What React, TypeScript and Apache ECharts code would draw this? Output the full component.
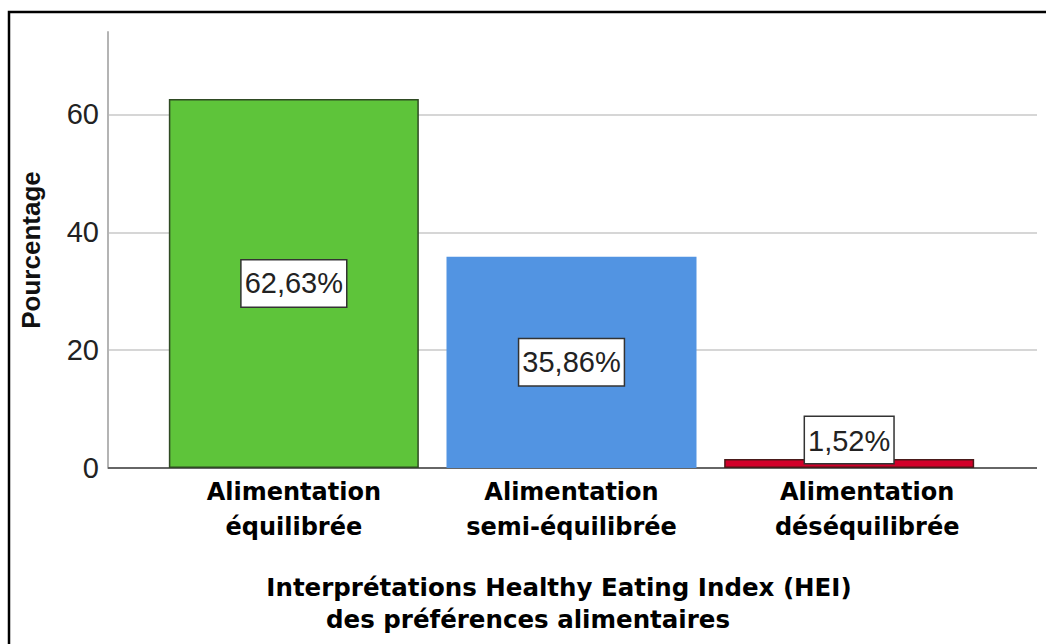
import React, { useEffect, useRef } from "react";
import * as echarts from "echarts";

// Category labels (two lines each) and percentages per category
const categories = [
  "Alimentation\néquilibrée",
  "Alimentation\nsemi-équilibrée",
  "Alimentation\ndéséquilibrée",
];
const percentages = [62.63, 35.86, 1.52];
const barColors = ["#5ec43a", "#5294e2", "#d2002a"];
const barBorders = ["#2f4a23", "#5294e2", "#4a1a1a"];
const yTicks = [0, 20, 40, 60];
const yAxisTitle = "Pourcentage";
const xAxisTitle = [
  "Interprétations Healthy Eating Index (HEI)",
  "des préférences alimentaires",
];

const Y_MAX = 74;
const fmt = (v: number) => v.toFixed(2).replace(".", ",") + "%";

export default function App() {
  const ref = useRef<HTMLDivElement>(null);

  useEffect(() => {
    if (!ref.current) return;
    const chart = echarts.init(ref.current, undefined, { renderer: "svg" });

    const labelBox = {
      show: true,
      formatter: (p: any) => fmt(p.value),
      fontFamily: "Liberation Sans, Arial, sans-serif",
      fontSize: 29,
      lineHeight: 29,
      color: "#222",
      backgroundColor: "#ffffff",
      borderColor: "#333",
      borderWidth: 1.5,
      padding: [9, 3, 8, 3],
    };

    chart.setOption({
      animation: false,
      grid: [
        { left: 108, right: 9, top: 32, bottom: 176 },
        { left: 155, right: 58, top: 32, bottom: 176 },
      ],
      xAxis: [
        {
          type: "value",
          gridIndex: 0,
          min: 0,
          max: 1,
          axisLine: { show: false },
          axisTick: { show: false },
          axisLabel: { show: false },
          splitLine: { show: false },
        },
        {
          type: "category",
          gridIndex: 1,
          data: categories.map((c, i) =>
            i === 2
              ? { value: c, textStyle: { padding: [0, 0, 5, 36] } }
              : c
          ),
          axisLine: { show: false },
          axisTick: { show: false },
          axisLabel: {
            margin: 6,
            fontFamily: "DejaVu Sans, Verdana, sans-serif",
            fontWeight: "bold",
            fontSize: 24,
            lineHeight: 35,
            color: "#000",
            interval: 0,
          },
        },
      ],
      yAxis: [
        {
          type: "value",
          gridIndex: 0,
          min: 0,
          max: Y_MAX,
          interval: 20,
          axisLine: { show: true, lineStyle: { color: "#b4b4b4", width: 2 } },
          axisTick: { show: false },
          axisLabel: {
            showMaxLabel: false,
            margin: 9,
            fontFamily: "Liberation Sans, Arial, sans-serif",
            fontSize: 29,
            color: "#222",
            formatter: (v: number) => (yTicks.includes(v) ? String(v) : ""),
          },
          splitLine: {
            show: true,
            showMaxLine: false,
            showMinLine: false,
            lineStyle: { color: "#d6d6d6", width: 2 },
          },
        },
        {
          type: "value",
          gridIndex: 1,
          min: 0,
          max: Y_MAX,
          show: false,
          splitLine: { show: false },
        },
      ],
      series: [
        {
          // baseline of the plot along the bottom
          type: "line",
          xAxisIndex: 0,
          yAxisIndex: 0,
          data: [
            [0, 0],
            [1, 0],
          ],
          symbol: "none",
          lineStyle: { color: "#666", width: 2 },
          silent: true,
          z: 3,
        },
        {
          type: "bar",
          xAxisIndex: 1,
          yAxisIndex: 1,
          barWidth: 250,
          z: 4,
          data: percentages.map((v, i) => ({
            value: v,
            itemStyle: {
              color: barColors[i],
              borderColor: barBorders[i],
              borderWidth: i === 1 ? 0 : 1.5,
            },
            label:
              i === 2
                ? { ...labelBox, position: "top", distance: -4 }
                : { ...labelBox, position: "inside" },
          })),
        },
      ],
      graphic: [
        {
          type: "rect",
          shape: { x: 9, y: 12, width: 1100, height: 700 },
          style: { fill: "none", stroke: "#000", lineWidth: 2.5 },
          silent: true,
        },
        {
          type: "text",
          x: 31,
          y: 250,
          rotation: Math.PI / 2,
          style: {
            text: yAxisTitle,
            fontFamily: "Liberation Sans, Arial, sans-serif",
            fontWeight: "bold",
            fontSize: 26,
            fill: "#111",
            align: "center",
            verticalAlign: "middle",
          },
        },
        {
          type: "text",
          x: 559,
          y: 587,
          style: {
            text: xAxisTitle[0],
            fontFamily: "DejaVu Sans, Verdana, sans-serif",
            fontWeight: "bold",
            fontSize: 24.5,
            fill: "#000",
            align: "center",
            verticalAlign: "middle",
          },
        },
        {
          type: "text",
          x: 528,
          y: 619,
          style: {
            text: xAxisTitle[1],
            fontFamily: "DejaVu Sans, Verdana, sans-serif",
            fontWeight: "bold",
            fontSize: 24.5,
            fill: "#000",
            align: "center",
            verticalAlign: "middle",
          },
        },
      ],
    });

    return () => chart.dispose();
  }, []);

  return (
    <div
      ref={ref}
      style={{
        position: "absolute",
        left: 0,
        top: 0,
        width: 1046,
        height: 644,
        background: "#fff",
      }}
    />
  );
}
